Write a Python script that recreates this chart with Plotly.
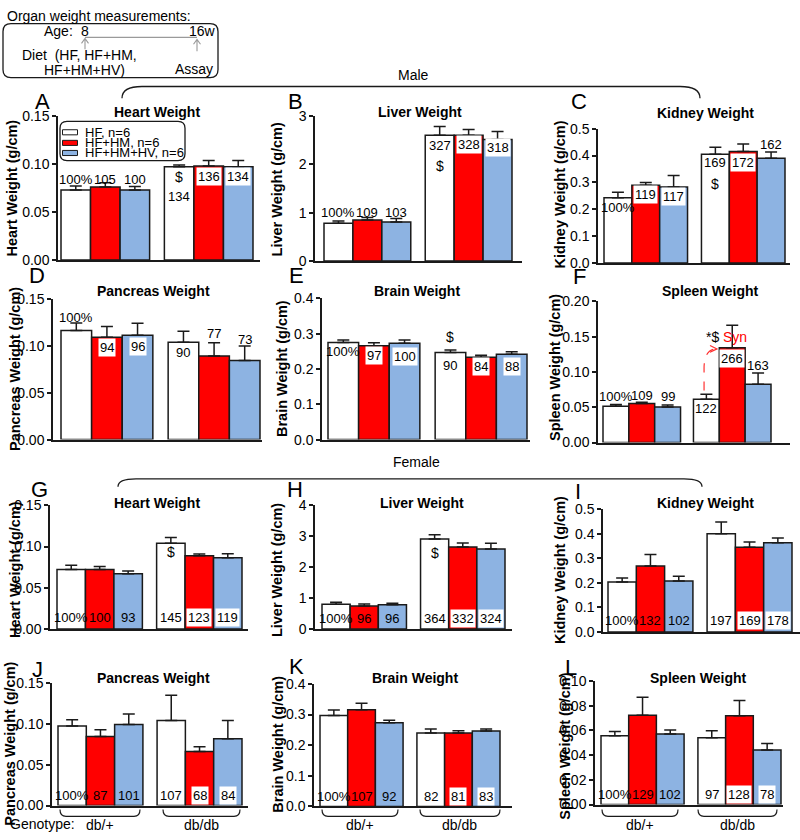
import plotly.graph_objects as go

W, H = 800, 840
FONT = "Arial, Liberation Sans, sans-serif"
INK = "#1a1a1a"

diets = ["HF, n=6", "HF+HM, n=6", "HF+HM+HV, n=6"]
genotypes = ["db/+", "db/db"]
diet_colors = ["#ffffff", "#ff0000", "#8db3e2"]

# mean organ weight per diet (HF, HF+HM, HF+HM+HV), each [db/+, db/db]
male_heart = [[0.073, 0.097], [0.076, 0.098], [0.073, 0.097]]
male_heart_sem = [[0.004, 0.002], [0.0045, 0.0057], [0.0035, 0.0065]]
male_heart_pct = ["100%", "105", "100", "134", "136", "134"]

male_liver = [[0.78, 2.60], [0.85, 2.60], [0.81, 2.51]]
male_liver_sem = [[0.05, 0.18], [0.05, 0.12], [0.07, 0.17]]
male_liver_pct = ["100%", "109", "103", "327", "328", "318"]

male_kidney = [[0.243, 0.405], [0.289, 0.415], [0.283, 0.390]]
male_kidney_sem = [[0.020, 0.026], [0.011, 0.028], [0.043, 0.023]]
male_kidney_pct = ["100%", "119", "117", "169", "172", "162"]

male_pancreas = [[0.1167, 0.1042], [0.1094, 0.0895], [0.1115, 0.0847]]
male_pancreas_sem = [[0.008, 0.0118], [0.0115, 0.014], [0.0129, 0.0153]]
male_pancreas_pct = ["100%", "94", "96", "90", "77", "73"]

male_brain = [[0.275, 0.247], [0.266, 0.233], [0.273, 0.242]]
male_brain_sem = [[0.007, 0.007], [0.008, 0.006], [0.009, 0.007]]
male_brain_pct = ["100%", "97", "100", "90", "84", "88"]

male_spleen = [[0.0514, 0.0613], [0.0552, 0.1344], [0.0505, 0.0825]]
male_spleen_sem = [[0.0024, 0.0071], [0.0018, 0.0316], [0.0028, 0.0161]]
male_spleen_pct = ["100%", "109", "99", "122", "266", "163"]

female_heart = [[0.0722, 0.104], [0.0722, 0.0889], [0.0671, 0.0865]]
female_heart_sem = [[0.0052, 0.007], [0.0036, 0.002], [0.0031, 0.0048]]
female_heart_pct = ["100%", "100", "93", "145", "123", "119"]

female_liver = [[0.80, 2.91], [0.74, 2.65], [0.78, 2.59]]
female_liver_sem = [[0.06, 0.14], [0.07, 0.13], [0.05, 0.18]]
female_liver_pct = ["100%", "96", "96", "364", "332", "324"]

female_kidney = [[0.203, 0.400], [0.269, 0.345], [0.208, 0.363]]
female_kidney_sem = [[0.017, 0.048], [0.047, 0.022], [0.019, 0.020]]
female_kidney_pct = ["100%", "132", "102", "197", "169", "178"]

female_pancreas = [[0.0972, 0.104], [0.0844, 0.066], [0.0992, 0.0816]]
female_pancreas_sem = [[0.0076, 0.0308], [0.0084, 0.006], [0.0128, 0.0224]]
female_pancreas_pct = ["100%", "87", "101", "107", "68", "84"]

female_brain = [[0.297, 0.240], [0.316, 0.240], [0.273, 0.246]]
female_brain_sem = [[0.018, 0.013], [0.021, 0.007], [0.008, 0.007]]
female_brain_pct = ["100%", "107", "92", "82", "81", "83"]

female_spleen = [[0.0557, 0.0541], [0.0723, 0.0718], [0.057, 0.0441]]
female_spleen_sem = [[0.0034, 0.0055], [0.0145, 0.0124], [0.0032, 0.0052]]
female_spleen_pct = ["100%", "129", "102", "97", "128", "78"]


def X(px):
    return px / W


def Y(py):
    return 1 - py / H


F6 = [False, False, False, False, True, True]
panels = [
    dict(letter="A", title="Heart Weight", ytitle="Heart Weight (g/cm)",
         mean=male_heart, sem=male_heart_sem, pct=male_heart_pct,
         ymax=0.15, dtick=0.05, fmt=".2f", box=(58, 260, 110, 257), bars=(61, 253),
         lab_y=[0.0843, 0.0843, 0.0843, 0.0666, 0.087, 0.087], boxed=F6,
         letter_xy=(42, 95), title_xy=(157, 106), ytitle_xy=(12, 184)),
    dict(letter="B", title="Liver Weight", ytitle="Liver Weight (g/cm)",
         mean=male_liver, sem=male_liver_sem, pct=male_liver_pct,
         ymax=3, dtick=1, fmt="d", box=(315, 522, 110, 258), bars=(324, 512),
         lab_y=[1.0, 1.0, 1.0, 2.39, 2.41, 2.35], boxed=F6,
         letter_xy=(295, 95), title_xy=(420, 106), ytitle_xy=(277, 185)),
    dict(letter="C", title="Kidney Weight", ytitle="Kidney Weight (g/cm)",
         mean=male_kidney, sem=male_kidney_sem, pct=male_kidney_pct,
         ymax=0.5, dtick=0.1, fmt=".1f", box=(598, 790, 123, 260), bars=(604, 785),
         lab_y=[0.206, 0.254, 0.249, 0.373, 0.373, 0.442],
         boxed=[False, True, True, False, True, False],
         letter_xy=(579, 95), title_xy=(705, 107), ytitle_xy=(560, 190)),
    dict(letter="D", title="Pancreas Weight", ytitle="Pancreas Weight (g/cm)",
         mean=male_pancreas, sem=male_pancreas_sem, pct=male_pancreas_pct,
         ymax=0.15, dtick=0.05, fmt=".2f", box=(53, 262, 297, 440), bars=(61, 260),
         lab_y=[0.131, 0.0986, 0.0993, 0.0934, 0.113, 0.107],
         boxed=[False, True, True, False, False, False],
         letter_xy=(37, 273), title_xy=(153, 289), ytitle_xy=(15, 368)),
    dict(letter="E", title="Brain Weight", ytitle="Brain Weight (g/cm)",
         mean=male_brain, sem=male_brain_sem, pct=male_brain_pct,
         ymax=0.4, dtick=0.1, fmt=".1f", box=(322, 530, 296, 440), bars=(328, 527),
         lab_y=[0.25, 0.238, 0.236, 0.21, 0.206, 0.206],
         boxed=[False, True, True, False, True, True],
         letter_xy=(296, 273), title_xy=(417, 289), ytitle_xy=(282, 368)),
    dict(letter="F", title="Spleen Weight", ytitle="Spleen Weight (g/cm)",
         mean=male_spleen, sem=male_spleen_sem, pct=male_spleen_pct,
         ymax=0.2, dtick=0.05, fmt=".2f", box=(598, 790, 299, 443), bars=(603, 771),
         lab_y=[0.0646, 0.067, 0.0646, 0.048, 0.119, 0.1085],
         boxed=[False, False, False, False, True, False],
         letter_xy=(579, 274), title_xy=(710, 289), ytitle_xy=(555, 367)),
    dict(letter="G", title="Heart Weight", ytitle="Heart Weight (g/cm)",
         mean=female_heart, sem=female_heart_sem, pct=female_heart_pct,
         ymax=0.15, dtick=0.05, fmt=".2f", box=(50, 248, 507, 633), bars=(57, 242),
         lab_y=[0.0139] * 6, boxed=F6,
         letter_xy=(39, 491), title_xy=(157, 505), ytitle_xy=(15, 573)),
    dict(letter="H", title="Liver Weight", ytitle="Liver Weight (g/cm)",
         mean=female_liver, sem=female_liver_sem, pct=female_liver_pct,
         ymax=4, dtick=1, fmt="d", box=(315, 512, 507, 633), bars=(322, 505),
         lab_y=[0.35] * 6, boxed=F6,
         letter_xy=(295, 491), title_xy=(422, 505), ytitle_xy=(277, 573)),
    dict(letter="I", title="Kidney Weight", ytitle="Kidney Weight (g/cm)",
         mean=female_kidney, sem=female_kidney_sem, pct=female_kidney_pct,
         ymax=0.5, dtick=0.1, fmt=".1f", box=(603, 800, 511, 636), bars=(608, 792),
         lab_y=[0.045] * 6, boxed=F6,
         letter_xy=(578, 493), title_xy=(705, 505), ytitle_xy=(560, 573)),
    dict(letter="J", title="Pancreas Weight", ytitle="Pancreas Weight (g/cm)",
         mean=female_pancreas, sem=female_pancreas_sem, pct=female_pancreas_pct,
         ymax=0.15, dtick=0.05, fmt=".2f", box=(52, 248, 688, 813), bars=(58, 242),
         lab_y=[0.012] * 6, boxed=F6,
         letter_xy=(37, 674), title_xy=(153, 683), ytitle_xy=(10, 750)),
    dict(letter="K", title="Brain Weight", ytitle="Brain Weight (g/cm)",
         mean=female_brain, sem=female_brain_sem, pct=female_brain_pct,
         ymax=0.4, dtick=0.1, fmt=".1f", box=(314, 512, 689, 814), bars=(320, 500),
         lab_y=[0.033] * 6, boxed=F6,
         letter_xy=(296, 671), title_xy=(415, 683), ytitle_xy=(278, 751)),
    dict(letter="L", title="Spleen Weight", ytitle="Spleen Weight (g/cm)",
         mean=female_spleen, sem=female_spleen_sem, pct=female_spleen_pct,
         ymax=0.1, dtick=0.02, fmt=".2f", box=(595, 783, 686, 812), bars=(601, 781),
         lab_y=[0.0084] * 6, boxed=F6,
         letter_xy=(571, 672), title_xy=(698, 683), ytitle_xy=(565, 753)),
]

# bar centres: three diets side by side, then a half-bar gap before db/db
positions = [[0, 3.5], [1, 4.5], [2, 5.5]]

fig = go.Figure()
annotations = []
shapes = []


def text(x, y, s, size=13, color="black", xanchor="center", yanchor="middle", **kw):
    annotations.append(dict(x=X(x), y=Y(y), xref="paper", yref="paper", text=s,
                            showarrow=False, xanchor=xanchor, yanchor=yanchor,
                            font=dict(size=size, family=FONT, color=color), **kw))


def rounded_box(x0, y0, x1, y1, r):
    return " ".join([
        f"M {X(x0 + r)},{Y(y0)}", f"L {X(x1 - r)},{Y(y0)}",
        f"Q {X(x1)},{Y(y0)} {X(x1)},{Y(y0 + r)}", f"L {X(x1)},{Y(y1 - r)}",
        f"Q {X(x1)},{Y(y1)} {X(x1 - r)},{Y(y1)}", f"L {X(x0 + r)},{Y(y1)}",
        f"Q {X(x0)},{Y(y1)} {X(x0)},{Y(y1 - r)}", f"L {X(x0)},{Y(y0 + r)}",
        f"Q {X(x0)},{Y(y0)} {X(x0 + r)},{Y(y0)} Z",
    ])


def bracket(x0, x1, y_end, y_line, r):
    return (f"M {X(x0)},{Y(y_end)} Q {X(x0)},{Y(y_line)} {X(x0 + r)},{Y(y_line)} "
            f"L {X(x1 - r)},{Y(y_line)} Q {X(x1)},{Y(y_line)} {X(x1)},{Y(y_end)}")


def pshape(path, color=INK, width=1.3, dash="solid", xref="paper", yref="paper"):
    shapes.append(dict(type="path", path=path, xref=xref, yref=yref,
                       line=dict(color=color, width=width, dash=dash)))


layout_axes = {}
for i, p in enumerate(panels):
    n = i + 1
    xa = "x" if n == 1 else f"x{n}"
    ya = "y" if n == 1 else f"y{n}"
    a, b, top, bottom = p["box"]
    s, e = p["bars"]
    u = (e - s) / 6.5
    xr = [-0.5 - (s - a) / u, 6.0 + (b - e) / u]
    p["xa"], p["ya"] = xa, ya

    for k in range(3):
        fig.add_trace(go.Bar(
            x=positions[k], y=p["mean"][k], width=1, name=diets[k],
            marker=dict(color=diet_colors[k], line=dict(color=INK, width=1.5)),
            error_y=dict(type="data", symmetric=False, array=p["sem"][k], arrayminus=[0, 0],
                         color=INK, thickness=1.5, width=6),
            xaxis=xa, yaxis=ya, showlegend=False,
        ))

    layout_axes["xaxis" if n == 1 else f"xaxis{n}"] = dict(
        domain=[X(a), X(b)], range=xr, anchor=ya, showline=True, linecolor=INK,
        linewidth=1.5, showgrid=False, zeroline=False, showticklabels=False, ticks="",
        fixedrange=True)
    layout_axes["yaxis" if n == 1 else f"yaxis{n}"] = dict(
        domain=[Y(bottom), Y(top)], range=[0, p["ymax"]], dtick=p["dtick"],
        tickformat=p["fmt"], anchor=xa, showline=True, linecolor=INK, linewidth=1.5,
        showgrid=False, zeroline=False, ticks="outside", ticklen=4, tickwidth=1.5,
        tickcolor=INK, tickfont=dict(size=14, family=FONT, color="black"), fixedrange=True)

    # percent labels on the bars
    for j, lab in enumerate(p["pct"]):
        k, g = j % 3, j // 3
        ann = dict(x=positions[k][g], y=p["lab_y"][j], xref=xa, yref=ya, text=lab,
                   showarrow=False, xanchor="center", yanchor="middle",
                   font=dict(size=13, family=FONT, color="black"), borderpad=1)
        if p["boxed"][j]:
            ann["bgcolor"] = "white"
        annotations.append(ann)

    text(*p["letter_xy"], p["letter"], size=22)
    text(*p["title_xy"], f"<b>{p['title']}</b>", size=14)
    text(*p["ytitle_xy"], f"<b>{p['ytitle']}</b>", size=14.5, textangle=-90)

# significance marks
marks = [(0, 3.5, 0.086, "$"), (1, 3.5, 1.97, "$"), (2, 3.5, 0.294, "$"),
         (4, 3.5, 0.291, "$"), (6, 3.5, 0.093, "$"), (7, 3.5, 2.47, "$"),
         (5, 3.75, 0.149, "*$")]
for pi, mx, my, mt in marks:
    annotations.append(dict(x=mx, y=my, xref=panels[pi]["xa"], yref=panels[pi]["ya"],
                            text=mt, showarrow=False, xanchor="center", yanchor="middle",
                            font=dict(size=14, family=FONT, color="black")))
annotations.append(dict(x=4.6, y=0.149, xref="x6", yref="y6", text="Syn", showarrow=False,
                        xanchor="center", yanchor="middle",
                        font=dict(size=14, family=FONT, color="#ff0000")))
pshape("M 3.41,0.0736 L 3.41,0.105 Q 3.41,0.1326 3.91,0.1326", color="#ff3030",
       width=1.2, dash="dash", xref="x6", yref="y6")
pshape("M 3.64,0.1375 L 3.91,0.1326 L 3.64,0.1278", color="#ff3030", width=1.2,
       xref="x6", yref="y6")

# legend in panel A
pshape(rounded_box(60, 115.5, 185, 155.5, 7), width=1.3)
for k, yy in enumerate([126.7, 137.5, 147.8]):
    shapes.append(dict(type="rect", xref="paper", yref="paper",
                       x0=X(62.5), x1=X(77.5), y0=Y(yy - 2.6), y1=Y(yy + 2.6),
                       fillcolor=diet_colors[k], line=dict(color=INK, width=1)))
    text(83, yy, diets[k], size=13, xanchor="left")

# header: study design
text(5, 8, "Organ weight measurements:", size=14, xanchor="left")
pshape(rounded_box(3, 16, 218, 71, 8), width=1.3)
text(42, 23, "Age:", size=14, xanchor="left")
text(84.5, 23, "8", size=14)
text(187, 23, "16w", size=14, xanchor="left")
pshape(f"M {X(85)},{Y(30)} L {X(197)},{Y(30)}", color="#9a9a9a", width=1.2)
for ax_, y0_, y1_ in [(85, 42, 31), (197, 44, 32)]:
    pshape(f"M {X(ax_)},{Y(y0_)} L {X(ax_)},{Y(y1_)} M {X(ax_ - 3.5)},{Y(y1_ + 5)} "
           f"L {X(ax_)},{Y(y1_)} L {X(ax_ + 3.5)},{Y(y1_ + 5)}", color="#9a9a9a", width=1.1)
text(20, 48, "Diet\u00a0\u00a0(HF, HF+HM,", size=14, xanchor="left")
text(42, 63, "HF+HM+HV)", size=14, xanchor="left")
text(173, 62, "Assay", size=14, xanchor="left")

# sex brackets
text(413, 68, "Male", size=14)
pshape(bracket(122, 700, 92, 80, 20), width=1.3)
text(416, 463, "Female", size=14)
pshape(bracket(118, 702, 488, 480, 18), width=1.3)

# genotype braces under bottom row
text(8, 832, "Genotype:", size=14, xanchor="left")
for g1, g2 in [((60, 140), (163, 240)), ((322, 398), (420, 500)), ((602, 678), (698, 777))]:
    for (b0, b1), lab in zip([g1, g2], genotypes):
        pshape(bracket(b0, b1, 817, 824, 6), width=1.2)
        text((b0 + b1) / 2, 833, lab, size=14)

fig.update_layout(
    width=W, height=H, autosize=False, margin=dict(l=0, r=0, t=0, b=0),
    paper_bgcolor="white", plot_bgcolor="white", barmode="overlay", showlegend=False,
    font=dict(family=FONT, color="black"),
    annotations=annotations, shapes=shapes, **layout_axes,
)

# the page body has an 8px default margin; drop it so the 800x840 figure fills the window
fig.write_html(
    "out.html",
    config={"displayModeBar": False},
    post_script="document.body.style.margin='0';document.body.style.overflow='hidden';",
)
